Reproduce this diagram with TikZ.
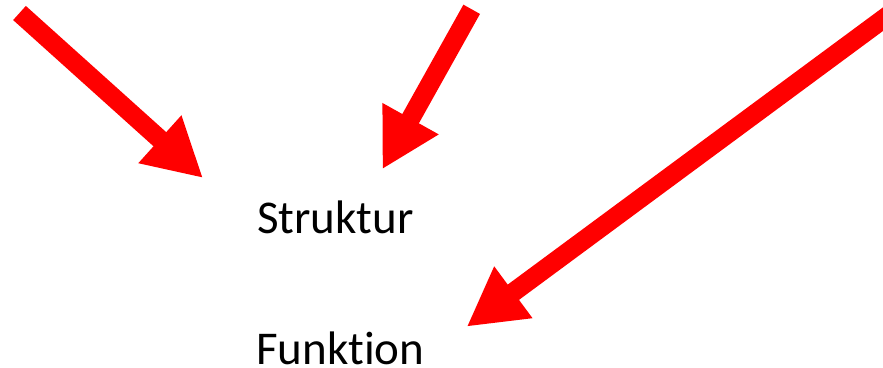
\documentclass[tikz,border=0pt]{standalone}
\usepackage{fontspec}
\setmainfont{Carlito}[Ligatures=NoCommon]
\usetikzlibrary{arrows.meta,positioning}

\begin{document}
\begin{tikzpicture}[x=1pt,y=-1pt,
      pointer/.style={draw=red,line width=19pt,-{Triangle[length=58pt,width=60pt]}},
      word/.style={anchor=base west,inner sep=0pt,font=\fontsize{47}{50}\selectfont}]
    \useasboundingbox (0,0) rectangle (883,367);
    \node[word] at (257,233) (struktur) {Struktur};
    \node[word] at (256,364) (funktion) {Funktion};
    \coordinate (t1) at (19.5,13);    \coordinate (h1) at (203,178);
    \coordinate (t2) at (471.7,9.3);  \coordinate (h2) at (382.3,169.3);
    \coordinate (t3) at (895,10.3);   \coordinate (h3) at (466.7,326.7);
    \draw[pointer] (t1) -- (h1);
    \draw[pointer] (t2) -- (h2);
    \draw[pointer] (t3) -- (h3);
\end{tikzpicture}
\end{document}
